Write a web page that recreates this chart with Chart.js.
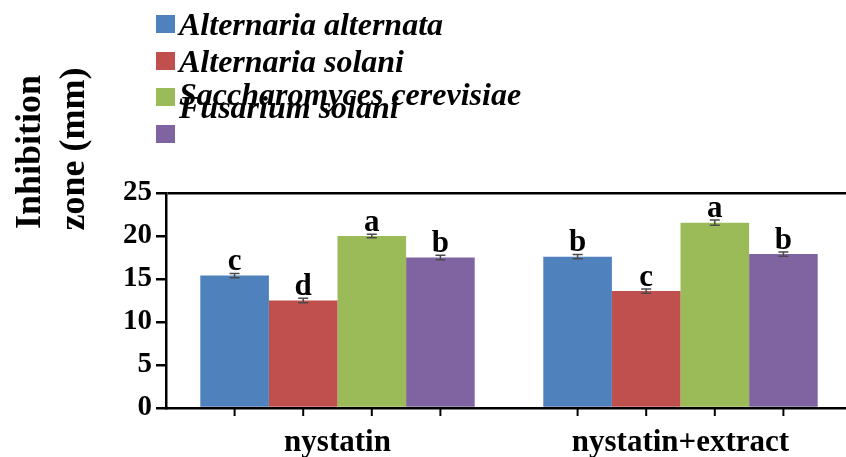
<!DOCTYPE html>
<html>
<head>
<meta charset="utf-8">
<script src="https://cdn.jsdelivr.net/npm/chart.js@4"></script>
<style>
  html, body { margin: 0; padding: 0; background: #fff; overflow: hidden; }
  #wrap { width: 846px; height: 457px; overflow: hidden; }
</style>
</head>
<body>
<div id="wrap"><canvas id="chart" width="852" height="457"></canvas></div>
<script>
// Data
const categories = ['nystatin', 'nystatin+extract'];
const species = ['Alternaria alternata', 'Alternaria solani', 'Saccharomyces cerevisiae', 'Fusarium solani'];
const alternata = [15.4, 17.6];
const solani = [12.5, 13.6];
const cerevisiae = [20.0, 21.55];
const fusarium = [17.5, 17.9];
const errAlternata = [0.25, 0.25];
const errSolani = [0.25, 0.25];
const errCerevisiae = [0.2, 0.3];
const errFusarium = [0.25, 0.25];
const lettAlternata = ['c', 'b'];
const lettSolani = ['d', 'c'];
const lettCerevisiae = ['a', 'a'];
const lettFusarium = ['b', 'b'];
const yTicks = [0, 5, 10, 15, 20, 25];

const colors = ['#4F81BD', '#C0504D', '#9BBB59', '#8064A2'];
const values = [alternata, solani, cerevisiae, fusarium];
const errors = [errAlternata, errSolani, errCerevisiae, errFusarium];
const letters = [lettAlternata, lettSolani, lettCerevisiae, lettFusarium];

const SERIF = '"Liberation Serif", "Times New Roman", serif';

// error bars, letters, x tick marks, legend and y title
const extras = {
    id: 'extras',
    afterDatasetsDraw(chart) {
        const ctx = chart.ctx;
        const y = chart.scales.y;
        const area = chart.chartArea;
        ctx.save();
        values.forEach((vals, i) => {
            const meta = chart.getDatasetMeta(i);
            meta.data.forEach((bar, j) => {
                const hi = y.getPixelForValue(vals[j] + errors[i][j]);
                const lo = y.getPixelForValue(vals[j] - errors[i][j]);
                ctx.strokeStyle = '#4a4a4a';
                ctx.lineWidth = 1.5;
                ctx.beginPath();
                ctx.moveTo(bar.x, hi); ctx.lineTo(bar.x, lo);
                ctx.moveTo(bar.x - 5, hi); ctx.lineTo(bar.x + 5, hi);
                ctx.moveTo(bar.x - 5, lo); ctx.lineTo(bar.x + 5, lo);
                ctx.stroke();

                ctx.fillStyle = '#000';
                ctx.font = 'bold 31px ' + SERIF;
                ctx.textAlign = 'center';
                ctx.textBaseline = 'alphabetic';
                ctx.fillText(letters[i][j], bar.x, hi - 3);

                // tick mark below axis at bar centre
                ctx.strokeStyle = '#000';
                ctx.lineWidth = 2;
                ctx.beginPath();
                ctx.moveTo(bar.x, area.bottom);
                ctx.lineTo(bar.x, area.bottom + 8);
                ctx.stroke();
            });
        });
        ctx.restore();
    },
    afterDraw(chart) {
        const ctx = chart.ctx;
        ctx.save();
        // legend (overlapping as in the original figure)
        const rows = [24, 61, 97, 134];
        const baselines = [35, 72, 105, 118];
        ctx.font = 'italic bold 32px ' + SERIF;
        ctx.textAlign = 'left';
        ctx.textBaseline = 'alphabetic';
        species.forEach((name, i) => {
            ctx.fillStyle = colors[i];
            ctx.fillRect(156, rows[i] - 9, 19, 18);
            ctx.fillStyle = '#000';
            ctx.fillText(name, 179, baselines[i]);
        });
        // y title
        ctx.font = 'bold 36px ' + SERIF;
        ctx.textAlign = 'center';
        [['Inhibition', 40, 152], ['zone (mm)', 84, 149]].forEach(([t, x, yy]) => {
            ctx.save();
            ctx.translate(x, yy);
            ctx.rotate(-Math.PI / 2);
            ctx.fillText(t, 0, 0);
            ctx.restore();
        });
        ctx.restore();
    }
};

new Chart(document.getElementById('chart'), {
    type: 'bar',
    data: {
        labels: categories,
        datasets: species.map((s, i) => ({
            label: s,
            data: values[i],
            backgroundColor: colors[i],
            borderWidth: 0,
            barPercentage: 1,
            categoryPercentage: 0.8
        }))
    },
    options: {
        responsive: false,
        animation: false,
        devicePixelRatio: 1,
        layout: { padding: { top: 193, right: 0, bottom: 0, left: 0 } },
        plugins: { legend: { display: false }, tooltip: { enabled: false } },
        scales: {
            x: {
                grid: { display: false, drawTicks: false },
                border: { color: '#000', width: 2.5 },
                ticks: {
                    color: '#000',
                    padding: 16,
                    font: { family: SERIF, size: 31, weight: 'bold' }
                },
                afterFit: s => { s.height = 49; }
            },
            y: {
                min: 0,
                max: 25,
                afterBuildTicks: s => { s.ticks = yTicks.map(v => ({ value: v })); },
                grid: {
                    color: c => c.tick && c.tick.value === 25 ? '#000' : 'transparent',
                    lineWidth: 2.5,
                    tickColor: '#000',
                    tickLength: 10,
                    drawTicks: true
                },
                border: { color: '#000', width: 2.5 },
                ticks: {
                    color: '#000',
                    padding: 4,
                    font: { family: SERIF, size: 29, weight: 'bold' }
                },
                afterFit: s => { s.width = 166; }
            }
        }
    },
    plugins: [extras]
});
</script>
</body>
</html>
